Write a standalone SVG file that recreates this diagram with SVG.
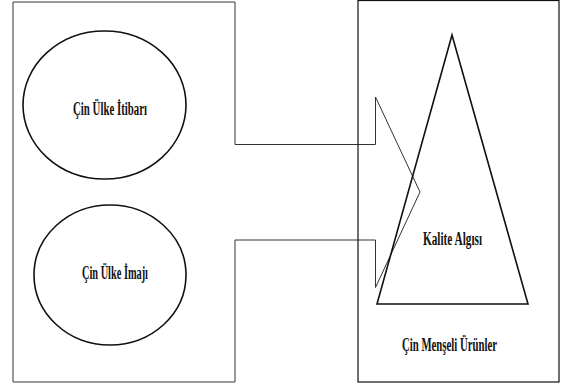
<svg xmlns="http://www.w3.org/2000/svg" width="563" height="387" viewBox="0 0 563 387">
<style>
.lbl{font-family:"Liberation Serif","Times New Roman",serif;font-weight:bold;font-size:18px;fill:#111;}
.ell{fill:none;stroke:#111;stroke-width:1.6;}
</style>
<rect width="563" height="387" fill="#fff"/>
<g id="connectors">
<path d="M13,2 H235 V144.5 H375.5 V97 L420,192 L375.5,287.5 V240 H235 V382 H13 Z" fill="none" stroke="#333" stroke-width="1"/>
</g>
<g id="node-itibar">
<ellipse class="ell" cx="104.5" cy="105" rx="81.5" ry="74"/>
<text class="lbl" x="73" y="114.5" textLength="74" lengthAdjust="spacingAndGlyphs">Çin Ülke İtibarı</text>
</g>
<g id="node-imaj">
<ellipse class="ell" cx="110" cy="275" rx="76" ry="70"/>
<text class="lbl" x="82" y="278.5" textLength="66" lengthAdjust="spacingAndGlyphs">Çin Ülke İmajı</text>
</g>
<g id="node-urunler">
<rect x="358" y="0.5" width="201" height="381.5" fill="none" stroke="#111" stroke-width="1.2"/>
<text class="lbl" x="402" y="351" textLength="95" lengthAdjust="spacingAndGlyphs">Çin Menşeli Ürünler</text>
</g>
<g id="node-kalite">
<polygon points="452,35 528,304 377,304" fill="none" stroke="#111" stroke-width="1.6"/>
<text class="lbl" x="423" y="244.5" textLength="59" lengthAdjust="spacingAndGlyphs">Kalite Algısı</text>
</g>
</svg>
